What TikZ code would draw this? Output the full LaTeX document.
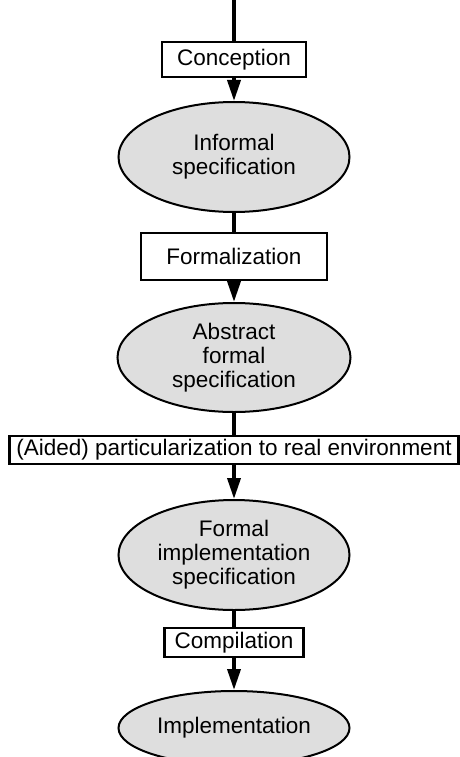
\documentclass[tikz,border=0pt]{standalone}
\usepackage{fontspec}
\setmainfont{Liberation Sans}
\usetikzlibrary{shapes.geometric, arrows.meta}

\tikzset{
  stagebox/.style={draw, line width=2.2pt, fill=white, inner sep=0pt,
    font=\fontsize{22.5}{24}\selectfont},
  specnode/.style={ellipse, draw, line width=2pt, fill=black!13, inner sep=0pt,
    minimum width=231pt, minimum height=110pt, align=center,
    font=\fontsize{22.5}{24}\selectfont},
  flow/.style={line width=3.6pt},
  flowarrow/.style={flow, -{Triangle[length=21pt, width=13pt]}}
}

\begin{document}
\begin{tikzpicture}[x=1pt,y=-1pt]
\useasboundingbox (0,0) rectangle (460,757);
\coordinate (start) at (234,0);
\node[stagebox, minimum width=144pt, minimum height=35pt] (conc) at (234,59.5) {Conception};
\node[specnode] (inf) at (234,157) {Informal\\specification};
\node[stagebox, minimum width=186pt, minimum height=47pt] (form) at (234,256.5) {Formalization};
\node[specnode, minimum width=233pt, minimum height=109pt] (abs) at (234,357.5) {Abstract\\formal\\specification};
\node[stagebox, minimum width=449pt, minimum height=28pt] (part) at (234,450) {(Aided) particularization to real environment};
\node[specnode] (fimp) at (234,555) {Formal\\implementation\\specification};
\node[stagebox, minimum width=139pt, minimum height=29pt] (comp) at (234,642.5) {Compilation};
\node[specnode, minimum height=74pt] (impl) at (234,728) {Implementation};
\draw[flow] (start) -- (conc);
\draw[flowarrow] (conc) -- (inf);
\draw[flow] (inf) -- (form);
\draw[flowarrow] (form) -- (abs);
\draw[flow] (abs) -- (part);
\draw[flowarrow] (part) -- (fimp);
\draw[flow] (fimp) -- (comp);
\draw[flowarrow] (comp) -- (impl);
\end{tikzpicture}
\end{document}
